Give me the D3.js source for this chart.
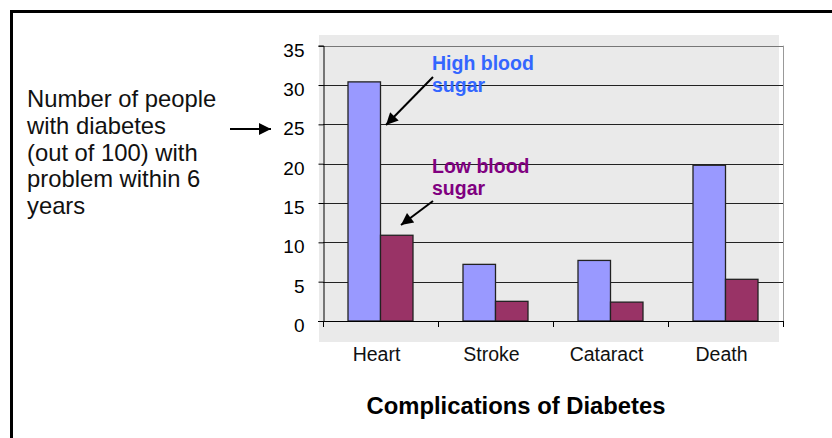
<!DOCTYPE html>
<html>
<head>
<meta charset="utf-8">
<script src="https://cdn.jsdelivr.net/npm/d3@7"></script>
<style>
  body { margin: 0; background: #fff; }
  text { font-family: Arial, 'Liberation Sans', sans-serif; }
</style>
</head>
<body>
<svg width="832" height="438"></svg>
<script>
const categories = ['Heart', 'Stroke', 'Cataract', 'Death'];
const seriesNames = ['High blood sugar', 'Low blood sugar'];
const highValues = [30.4, 7.2, 7.7, 19.8];
const lowValues = [10.9, 2.5, 2.4, 5.3];
const yTicks = [0, 5, 10, 15, 20, 25, 30, 35];
const yLabel = ['Number of people', 'with diabetes', '(out of 100) with', 'problem within 6', 'years'];
const colors = ['#9999ff', '#993366'];

const rows = categories.map((c, i) => ({cat: c, vals: [highValues[i], lowValues[i]]}));

const svg = d3.select('svg');
const plotL = 323, plotR = 783, plotT = 45.7, plotB = 321;

const x0 = d3.scaleBand().domain(categories).range([plotL, plotR]);
const x1 = d3.scaleBand().domain(seriesNames).range([25, x0.bandwidth() - 25]);
const y = d3.scaleLinear().domain([0, 35]).range([plotB, plotT]);

// outer frame
svg.append('path')
  .attr('d', 'M11.5,440 L11.5,11.5 L840,11.5')
  .attr('fill', 'none')
  .attr('stroke', '#000')
  .attr('stroke-width', 3);

// plot background
svg.append('rect')
  .attr('x', 319).attr('y', 35)
  .attr('width', 460).attr('height', 307)
  .attr('fill', '#eaeaea');

// gridlines
svg.append('g').selectAll('line')
  .data(yTicks.filter(d => d > 0))
  .enter().append('line')
  .attr('x1', plotL).attr('x2', plotR)
  .attr('y1', d => Math.round(y(d)) + 0.5)
  .attr('y2', d => Math.round(y(d)) + 0.5)
  .attr('stroke', d => d === 35 ? '#777' : '#222')
  .attr('stroke-width', 1.2);

svg.append('line')
  .attr('x1', plotR + 0.5).attr('x2', plotR + 0.5)
  .attr('y1', plotT).attr('y2', plotB)
  .attr('stroke', '#999');

// bars
const groups = svg.append('g').selectAll('g')
  .data(rows)
  .enter().append('g')
  .attr('transform', d => `translate(${x0(d.cat)},0)`);

groups.selectAll('rect')
  .data(d => d.vals.map((v, i) => ({name: seriesNames[i], v: v, i: i})))
  .enter().append('rect')
  .attr('x', d => x1(d.name))
  .attr('y', d => y(d.v))
  .attr('width', x1.bandwidth())
  .attr('height', d => y(0) - y(d.v))
  .attr('fill', d => colors[d.i])
  .attr('stroke', '#222')
  .attr('stroke-width', 1.3);

// y axis
const yAxis = svg.append('g')
  .attr('transform', `translate(${plotL + 0.5},0)`)
  .call(d3.axisLeft(y).tickValues(yTicks).tickSize(5).tickPadding(14));
yAxis.select('.domain').attr('stroke', '#000');
yAxis.selectAll('.tick line').attr('stroke', '#000');
yAxis.selectAll('text')
  .attr('dy', '0.55em')
  .style('font-size', '19px')
  .style('font-family', "Arial, 'Liberation Sans', sans-serif")
  .attr('fill', '#000');

// x axis line and boundary ticks
svg.append('line')
  .attr('x1', 318).attr('x2', plotR + 1)
  .attr('y1', plotB + 0.5).attr('y2', plotB + 0.5)
  .attr('stroke', '#000');
svg.append('g').selectAll('line')
  .data(categories.concat(['end']))
  .enter().append('line')
  .attr('x1', (d, i) => plotL + i * x0.bandwidth() + 0.5)
  .attr('x2', (d, i) => plotL + i * x0.bandwidth() + 0.5)
  .attr('y1', plotB).attr('y2', plotB + 6)
  .attr('stroke', '#000');

svg.append('g').selectAll('text')
  .data(categories)
  .enter().append('text')
  .attr('x', d => x0(d) + x0.bandwidth() / 2 - 4)
  .attr('y', 361)
  .attr('text-anchor', 'middle')
  .style('font-size', '19.5px')
  .attr('fill', '#111')
  .text(d => d);

// title
svg.append('text')
  .attr('x', 516).attr('y', 414)
  .attr('text-anchor', 'middle')
  .style('font-size', '23.8px')
  .style('font-weight', 'bold')
  .text('Complications of Diabetes');

// left label
svg.append('g').selectAll('text')
  .data(yLabel)
  .enter().append('text')
  .attr('x', 27)
  .attr('y', (d, i) => 107 + i * 26.8)
  .style('font-size', '23.8px')
  .attr('fill', '#111')
  .text(d => d);

// arrows
const defs = svg.append('defs');
defs.append('marker')
  .attr('id', 'ah')
  .attr('viewBox', '0 0 10 10')
  .attr('refX', 10).attr('refY', 5)
  .attr('markerWidth', 7).attr('markerHeight', 6)
  .attr('markerUnits', 'strokeWidth')
  .attr('orient', 'auto')
  .append('path').attr('d', 'M0,0 L10,5 L0,10 z').attr('fill', '#000');

const arrows = [
  [230, 129, 271, 129],
  [433, 77, 386, 125],
  [433, 201, 401, 225]
];
svg.append('g').selectAll('line')
  .data(arrows)
  .enter().append('line')
  .attr('x1', d => d[0]).attr('y1', d => d[1])
  .attr('x2', d => d[2]).attr('y2', d => d[3])
  .attr('stroke', '#000')
  .attr('stroke-width', 2)
  .attr('marker-end', 'url(#ah)');

// series annotations
const notes = [
  {lines: ['High blood', 'sugar'], y: 70, color: '#3366ff'},
  {lines: ['Low blood', 'sugar'], y: 173, color: '#800080'}
];
notes.forEach(n => {
  svg.append('g').selectAll('text')
    .data(n.lines)
    .enter().append('text')
    .attr('x', 432)
    .attr('y', (d, i) => n.y + i * 21.5)
    .style('font-size', '19.5px')
    .style('font-weight', 'bold')
    .attr('fill', n.color)
    .text(d => d);
});
</script>
</body>
</html>
